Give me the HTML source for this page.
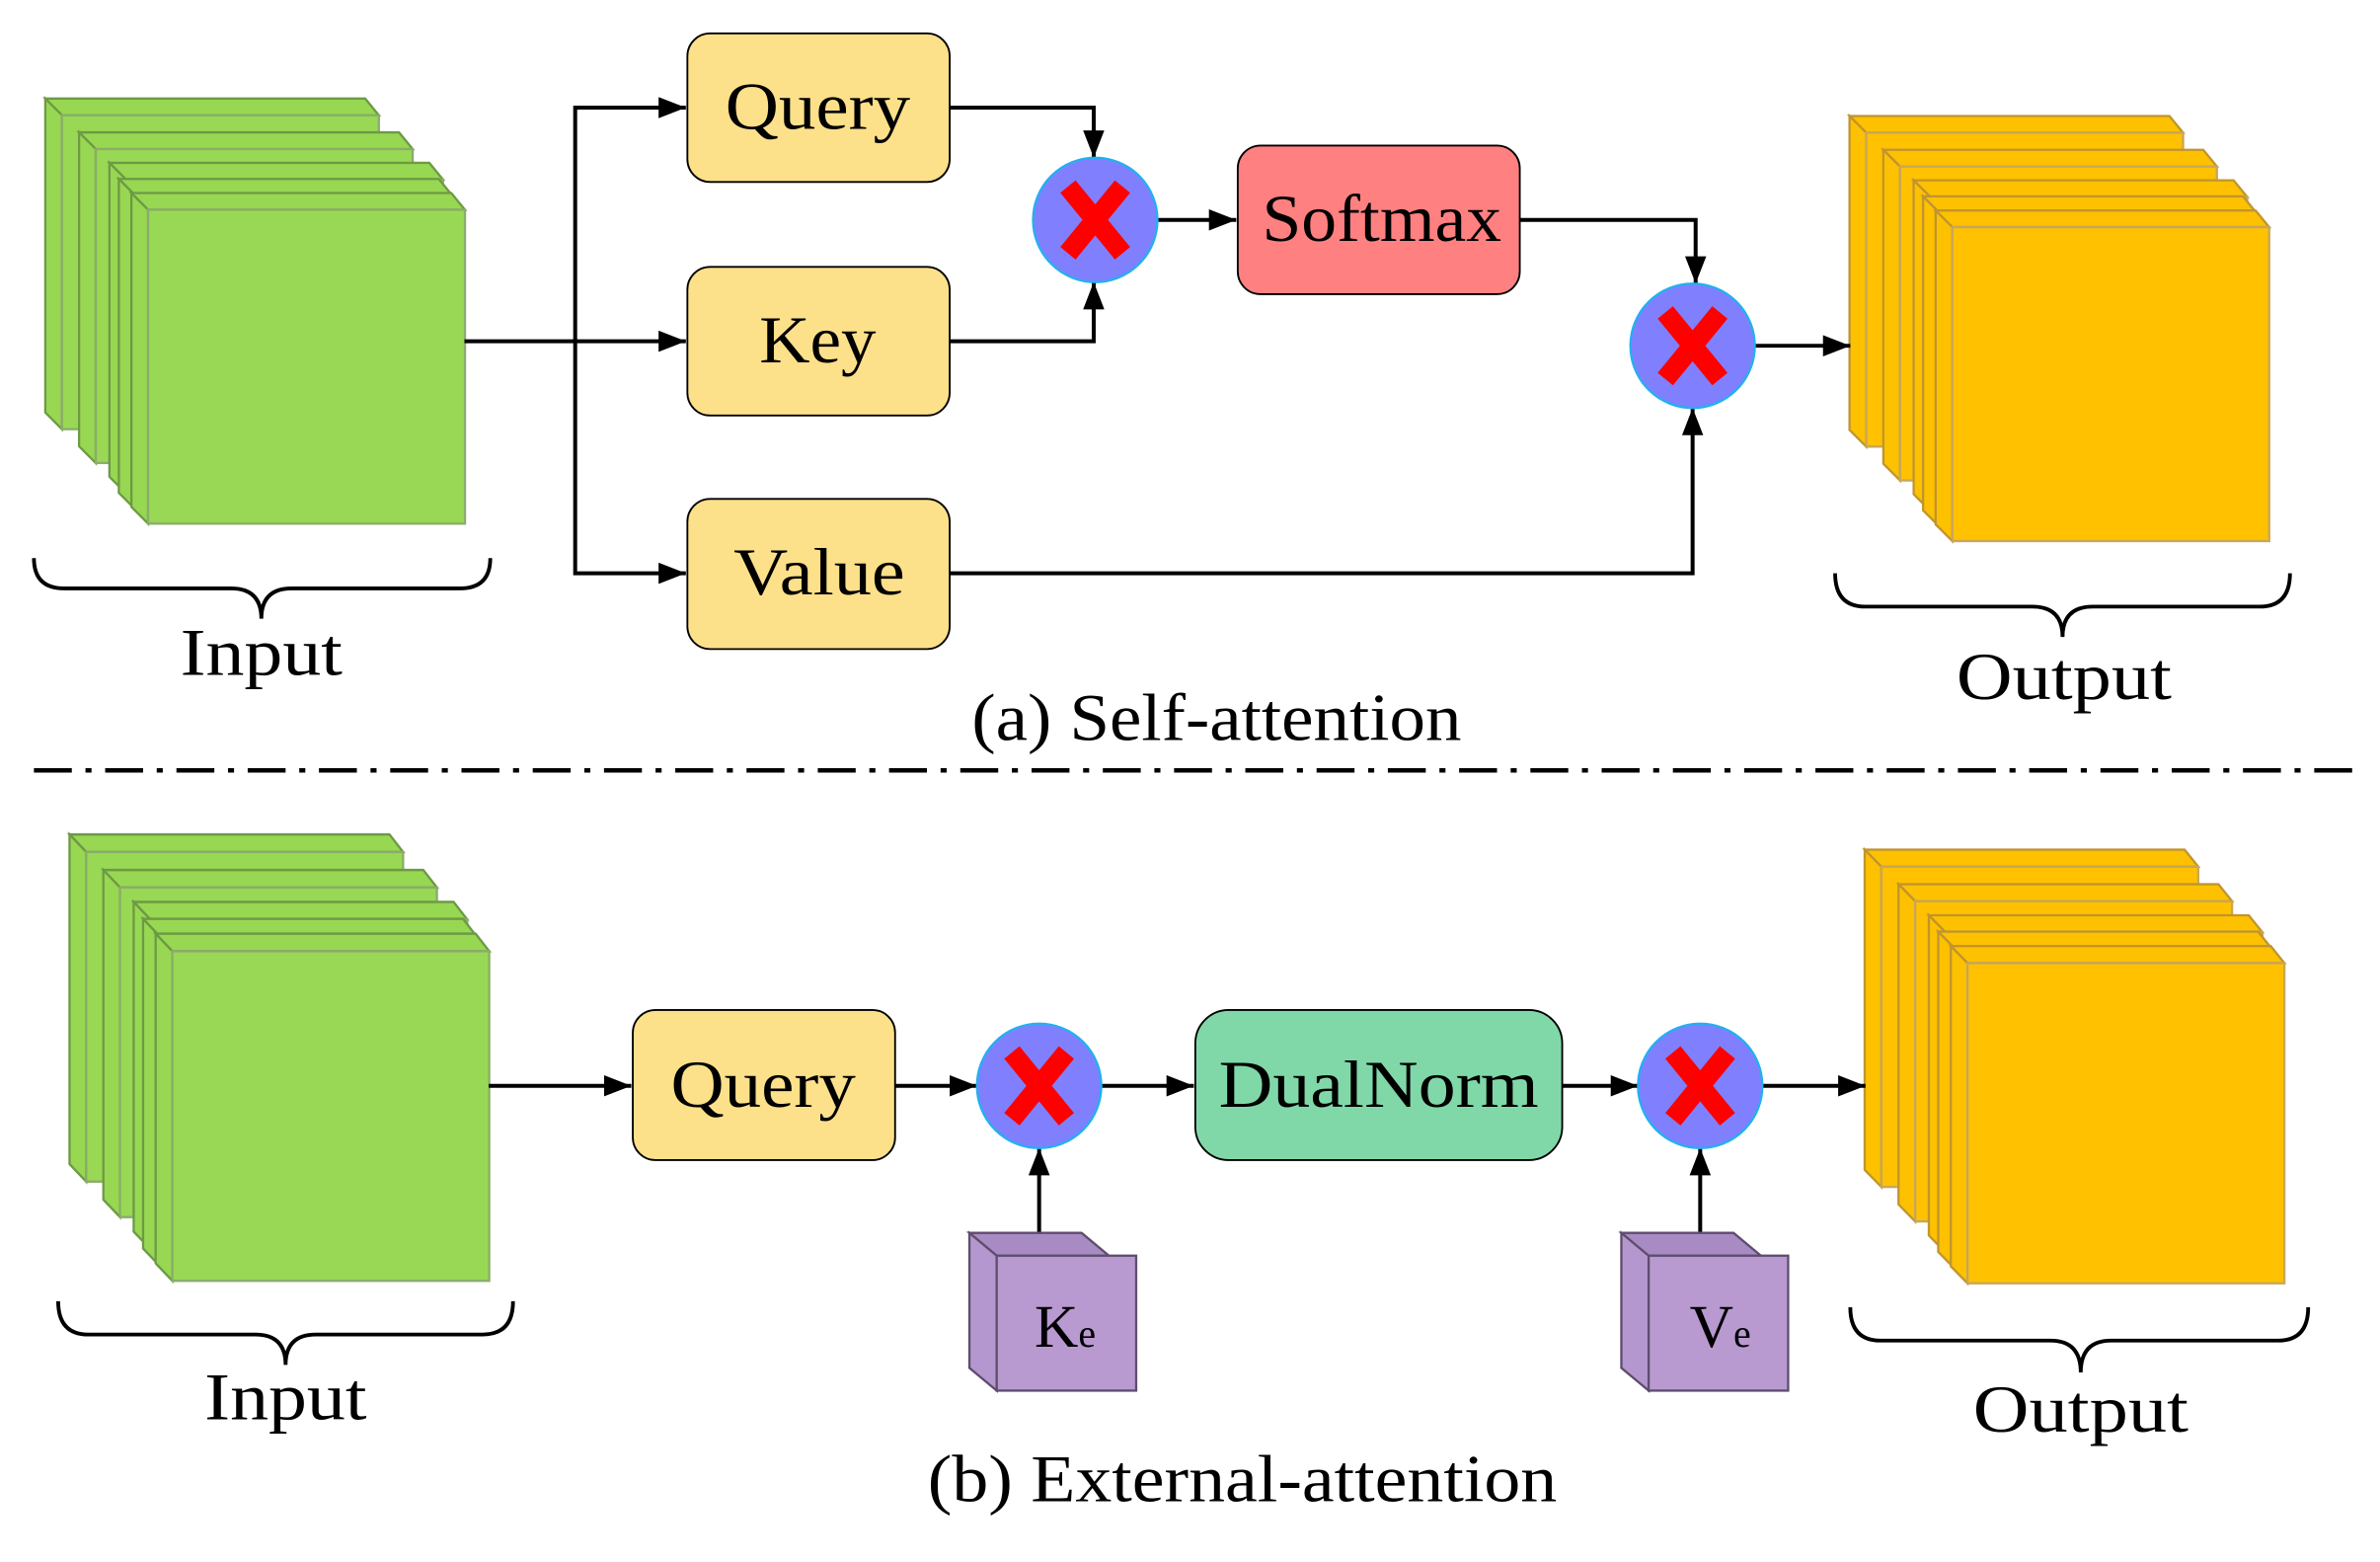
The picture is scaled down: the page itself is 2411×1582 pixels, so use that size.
<!DOCTYPE html>
<html><head><meta charset="utf-8"><style>html,body{margin:0;padding:0;background:#fff}svg{display:block}</style></head>
<body>
<svg width="2411" height="1582" viewBox="0 0 1569 1030" xmlns="http://www.w3.org/2000/svg" font-family="'Liberation Serif', serif">
<defs>
<g id="Lg">
<polygon points="0,0 211,0 220,11 11,11" fill="#98d752" stroke="#6d9a44" stroke-width="1.5"/>
<polygon points="0,0 11,11 11,218 0,207" fill="#98d752" stroke="#6d9a44" stroke-width="1.5"/>
<rect x="11" y="11" width="209" height="207" fill="#99d854" stroke="#8aad6a" stroke-width="1.5"/>
</g>
<g id="Ly">
<polygon points="0,0 211,0 220,11 11,11" fill="#fdc100" stroke="#c0952e" stroke-width="1.5"/>
<polygon points="0,0 11,11 11,218 0,207" fill="#fdc100" stroke="#c0952e" stroke-width="1.5"/>
<rect x="11" y="11" width="209" height="207" fill="#ffc100" stroke="#c8a65a" stroke-width="1.5"/>
</g>
<g id="Cube">
<polygon points="0,0 74,0 92,15 18,15" fill="#a98bc4" stroke="#5e4d6e" stroke-width="1.5"/>
<polygon points="0,0 18,15 18,104 0,89" fill="#b597cf" stroke="#5e4d6e" stroke-width="1.5"/>
<rect x="18" y="15" width="92" height="89" fill="#b899d0" stroke="#5e4d6e" stroke-width="1.5"/>
</g>
<g id="Mul">
<circle r="41" fill="#8080ff" stroke="#22b0f0" stroke-width="1.5"/>
<line x1="-18" y1="-22" x2="18" y2="22" stroke="#ff0000" stroke-width="13"/>
<line x1="18" y1="-22" x2="-18" y2="22" stroke="#ff0000" stroke-width="13"/>
</g>
<marker id="ah" markerWidth="18" markerHeight="14" refX="18" refY="7" orient="auto" markerUnits="userSpaceOnUse">
<polygon points="0,0 18,7 0,14" fill="#000"/>
</marker>
</defs>

<use href="#Lg" x="29.5" y="65"/>
<use href="#Lg" x="51.8" y="87.3"/>
<use href="#Lg" x="71.8" y="107.4"/>
<use href="#Lg" x="78" y="118"/>
<use href="#Lg" x="86.3" y="127.3"/>
<use href="#Ly" x="1219.5" y="76.5"/>
<use href="#Ly" x="1241.8" y="98.8"/>
<use href="#Ly" x="1261.8" y="118.9"/>
<use href="#Ly" x="1268" y="129.5"/>
<use href="#Ly" x="1276.3" y="138.8"/>
<g transform="translate(16,482) scale(1,1.05)">
<use href="#Lg" x="29.5" y="65"/>
<use href="#Lg" x="51.8" y="87.3"/>
<use href="#Lg" x="71.8" y="107.4"/>
<use href="#Lg" x="78" y="118"/>
<use href="#Lg" x="86.3" y="127.3"/>
</g>
<g transform="translate(1200,494) scale(1,1.02)">
<use href="#Ly" x="29.5" y="65"/>
<use href="#Ly" x="51.8" y="87.3"/>
<use href="#Ly" x="71.8" y="107.4"/>
<use href="#Ly" x="78" y="118"/>
<use href="#Ly" x="86.3" y="127.3"/>
</g>

<g fill="none" stroke="#000" stroke-width="2.5">
<path d="M22,368 Q22,388 42,388 L152,388 Q172,388 172,408 Q172,388 192,388 L303,388 Q323,388 323,368"/>
<path d="M1210,378 Q1210,400 1230,400 L1340,400 Q1360,400 1360,420 Q1360,400 1380,400 L1490,400 Q1510,400 1510,378"/>
<path d="M38,858 Q38,880 58,880 L168,880 Q188,880 188,900 Q188,880 208,880 L318,880 Q338,880 338,858"/>
<path d="M1220,862 Q1220,884 1240,884 L1352,884 Q1372,884 1372,905 Q1372,884 1392,884 L1502,884 Q1522,884 1522,862"/>
</g>
<g font-size="44" text-anchor="middle" fill="#000">
<text x="172" y="445" textLength="107" lengthAdjust="spacingAndGlyphs">Input</text>
<text x="1361" y="461" textLength="142" lengthAdjust="spacingAndGlyphs">Output</text>
<text x="188" y="936" textLength="107" lengthAdjust="spacingAndGlyphs">Input</text>
<text x="1372" y="944" textLength="142" lengthAdjust="spacingAndGlyphs">Output</text>
<text x="802" y="488" textLength="323" lengthAdjust="spacingAndGlyphs">(a) Self-attention</text>
<text x="819" y="990" textLength="415" lengthAdjust="spacingAndGlyphs">(b) External-attention</text>
</g>

<line x1="22" y1="508" x2="1552" y2="508" stroke="#000" stroke-width="3" stroke-dasharray="25,9,4,9"/>

<g stroke="#000" stroke-width="1.2">
<rect x="453" y="22" width="173" height="98" rx="15" fill="#fde08a"/>
<rect x="453" y="176" width="173" height="98" rx="15" fill="#fde08a"/>
<rect x="453" y="329" width="173" height="99" rx="15" fill="#fde08a"/>
<rect x="816" y="96" width="186" height="98" rx="15" fill="#ff8080"/>
<rect x="417" y="666" width="173" height="99" rx="15" fill="#fde08a"/>
<rect x="788" y="666" width="242" height="99" rx="22" fill="#80d8a8"/>
</g>
<g font-size="44" text-anchor="middle" fill="#000">
<text x="539" y="85" textLength="122" lengthAdjust="spacingAndGlyphs">Query</text>
<text x="539" y="239" textLength="77" lengthAdjust="spacingAndGlyphs">Key</text>
<text x="540" y="392" textLength="113" lengthAdjust="spacingAndGlyphs">Value</text>
<text x="911" y="159" textLength="158" lengthAdjust="spacingAndGlyphs">Softmax</text>
<text x="503" y="730" textLength="122" lengthAdjust="spacingAndGlyphs">Query</text>
<text x="909" y="730" textLength="211" lengthAdjust="spacingAndGlyphs">DualNorm</text>
</g>

<g fill="none" stroke="#000" stroke-width="2.6" marker-end="url(#ah)">
<path d="M306,225 L452,225"/>
<path d="M379,225 L379,71 L452,71"/>
<path d="M379,225 L379,378 L452,378"/>
<path d="M626,71 L721,71 L721,104"/>
<path d="M626,225 L721,225 L721,186"/>
<path d="M763,145 L815,145"/>
<path d="M1002,145 L1118,145 L1118,187"/>
<path d="M626,378 L1116,378 L1116,269"/>
<path d="M1157,228 L1220,228"/>
<path d="M322,716 L416,716"/>
<path d="M590,716 L644,716"/>
<path d="M726,716 L787,716"/>
<path d="M1030,716 L1080,716"/>
<path d="M1162,716 L1230,716"/>
<path d="M685,813 L685,757"/>
<path d="M1121,813 L1121,757"/>
</g>

<use href="#Mul" x="722" y="145"/>
<use href="#Mul" x="1116" y="228"/>
<use href="#Mul" x="685" y="716"/>
<use href="#Mul" x="1121" y="716"/>

<use href="#Cube" x="639" y="813"/>
<use href="#Cube" x="1069" y="813"/>
<g fill="#000">
<text x="682" y="888" font-size="40">K<tspan font-size="26">e</tspan></text>
<text x="1114" y="888" font-size="40">V<tspan font-size="26">e</tspan></text>
</g>
</svg>
</body></html>
